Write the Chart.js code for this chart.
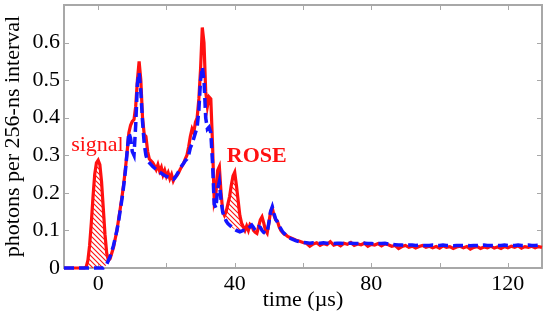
<!DOCTYPE html>
<html>
<head>
<meta charset="utf-8">
<script src="https://cdn.jsdelivr.net/npm/chart.js@4/dist/chart.umd.min.js"></script>
<style>
  html, body { margin: 0; padding: 0; background: #fff; }
  #wrap { width: 545px; height: 317px; }
</style>
</head>
<body>
<div id="wrap"><canvas id="photonChart" width="545" height="317"></canvas></div>
<script>
// sample times (µs)
var timeUs = [
  -10, -9, -8, -7, -6, -5, -4,
  -3.5, -3, -2.5, -2, -1.5, -1, -0.5, 0, 0.5, 1,
  1.5, 2, 2.5, 3, 3.5, 4, 4.5, 5, 5.5, 6,
  6.5, 7, 7.5, 8, 8.5, 9, 9.5, 10, 10.5, 11,
  11.5, 12, 12.5, 13, 13.5, 14, 14.5, 15, 15.5, 16,
  16.5, 17, 17.5, 18, 18.5, 19, 19.5, 20, 20.5, 21,
  21.5, 22, 22.5, 23, 23.5, 24, 24.5, 25, 25.5, 26,
  26.5, 27, 27.5, 28, 28.5, 29, 29.5, 30, 30.5, 31,
  31.5, 32, 32.5, 33, 33.5, 34, 34.5, 35, 35.5, 36,
  36.5, 37, 37.5, 38, 38.5, 39, 39.5, 40, 40.5, 41,
  41.5, 42, 42.5, 43, 43.5, 44, 44.5, 45, 45.5, 46,
  46.5, 47, 47.5, 48, 48.5, 49, 49.5, 50, 50.5, 51,
  51.5, 52, 52.5, 53, 53.5, 54, 54.5, 55, 55.5, 56,
  57, 58, 59, 60, 61, 62, 63, 64, 65, 66,
  67, 68, 69, 70, 71, 72, 73, 74, 75, 76,
  77, 78, 79, 80, 81, 82, 83, 84, 85, 86,
  87, 88, 89, 90, 91, 92, 93, 94, 95, 96,
  97, 98, 99, 100, 101, 102, 103, 104, 105, 106,
  107, 108, 109, 110, 111, 112, 113, 114, 115, 116,
  117, 118, 119, 120, 121, 122, 123, 124, 125, 126,
  127, 128, 129, 130
];

// red: measured signal
var signalPhotons = [
  0, 0, 0, 0, 0, 0, 0,
  0.003, 0.02, 0.06, 0.12, 0.19, 0.25, 0.28, 0.287, 0.275, 0.23,
  0.16, 0.09, 0.04, 0.02, 0.025, 0.04, 0.055, 0.078, 0.1, 0.13,
  0.16, 0.19, 0.225, 0.265, 0.31, 0.36, 0.38, 0.39, 0.395, 0.43,
  0.5, 0.55, 0.5, 0.4, 0.355, 0.35, 0.31, 0.29, 0.285, 0.28,
  0.272, 0.262, 0.275, 0.258, 0.268, 0.248, 0.26, 0.244, 0.254, 0.238,
  0.249, 0.232, 0.242, 0.245, 0.252, 0.262, 0.27, 0.278, 0.29, 0.3,
  0.322, 0.35, 0.37, 0.36, 0.388, 0.4, 0.45, 0.53, 0.64, 0.6,
  0.47, 0.43, 0.455, 0.45, 0.33, 0.18, 0.2, 0.26, 0.27, 0.2,
  0.15, 0.14, 0.15, 0.17, 0.19, 0.22, 0.245, 0.255, 0.22, 0.18,
  0.14, 0.12, 0.11, 0.1, 0.112, 0.1, 0.116, 0.112, 0.1, 0.095,
  0.092, 0.11, 0.128, 0.136, 0.12, 0.1, 0.093, 0.12, 0.15, 0.16,
  0.14, 0.128, 0.125, 0.11, 0.1, 0.095, 0.09, 0.088, 0.084, 0.082,
  0.078, 0.074, 0.071, 0.068, 0.066, 0.058, 0.064, 0.067, 0.06, 0.065,
  0.062, 0.07, 0.061, 0.064, 0.059, 0.066, 0.063, 0.068, 0.06, 0.064,
  0.062, 0.066, 0.058, 0.063, 0.061, 0.065, 0.059, 0.064, 0.062, 0.058,
  0.06, 0.052, 0.057, 0.06, 0.055, 0.058, 0.053, 0.057, 0.06, 0.055,
  0.058, 0.054, 0.057, 0.053, 0.059, 0.055, 0.057, 0.052, 0.056, 0.058,
  0.054, 0.057, 0.05, 0.055, 0.057, 0.052, 0.056, 0.054, 0.058, 0.053,
  0.056, 0.052, 0.057, 0.054, 0.058, 0.055, 0.059, 0.053, 0.057, 0.055,
  0.058, 0.054, 0.057, 0.055
];

// blue dashed: reference (no ROSE)
var referencePhotons = [
  0, 0, 0, 0, 0, 0, 0,
  0, 0, 0, 0, 0, 0, 0, 0, 0, 0,
  0, 0.003, 0.01, 0.02, 0.03, 0.045, 0.06, 0.08, 0.1, 0.125,
  0.155, 0.185, 0.22, 0.26, 0.31, 0.36, 0.345, 0.31, 0.3, 0.38,
  0.49, 0.52, 0.47, 0.39, 0.33, 0.3, 0.285, 0.28, 0.275, 0.27,
  0.266, 0.262, 0.258, 0.255, 0.252, 0.249, 0.246, 0.244, 0.242, 0.24,
  0.238, 0.236, 0.24, 0.248, 0.256, 0.265, 0.272, 0.278, 0.285, 0.29,
  0.3, 0.32, 0.33, 0.345, 0.36, 0.375, 0.42, 0.5, 0.535, 0.5,
  0.4, 0.37, 0.375, 0.36, 0.28, 0.17, 0.16, 0.21, 0.23, 0.18,
  0.148, 0.135, 0.125, 0.118, 0.114, 0.11, 0.106, 0.103, 0.1, 0.098,
  0.096, 0.098, 0.1, 0.1, 0.102, 0.105, 0.11, 0.114, 0.108, 0.1,
  0.105, 0.11, 0.108, 0.1, 0.095, 0.092, 0.095, 0.12, 0.15, 0.163,
  0.145, 0.13, 0.122, 0.112, 0.105, 0.097, 0.092, 0.088, 0.084, 0.08,
  0.076, 0.072, 0.07, 0.068, 0.067, 0.066, 0.067, 0.066, 0.066, 0.067,
  0.066, 0.066, 0.065, 0.066, 0.066, 0.065, 0.066, 0.066, 0.065, 0.065,
  0.065, 0.066, 0.065, 0.065, 0.064, 0.065, 0.065, 0.066, 0.064, 0.063,
  0.062, 0.061, 0.061, 0.06, 0.061, 0.061, 0.06, 0.061, 0.06, 0.06,
  0.06, 0.061, 0.06, 0.06, 0.061, 0.06, 0.06, 0.059, 0.06, 0.06,
  0.06, 0.06, 0.059, 0.06, 0.06, 0.06, 0.061, 0.06, 0.06, 0.06,
  0.06, 0.06, 0.061, 0.06, 0.06, 0.06, 0.061, 0.06, 0.06, 0.061,
  0.06, 0.06, 0.061, 0.06
];

// time windows hatched between the two curves
var hatchWindows = [[-4, 3], [36.5, 43]];

var xTickValues = [0, 20, 40, 60, 80, 100, 120];
var xTickLabels = [0, 40, 80, 120];
var yTickValues = [0, 0.1, 0.2, 0.3, 0.4, 0.5, 0.6, 0.7];
var yTickLabels = [0, 0.1, 0.2, 0.3, 0.4, 0.5, 0.6];

var serif = '"Liberation Serif", "DejaVu Serif", serif';

function toPoints(vals) {
    return timeUs.map(function (t, i) { return { x: t, y: vals[i] }; });
}

function inHatch(t) {
    return hatchWindows.some(function (w) { return t >= w[0] && t <= w[1]; });
}

// red diagonal hatching
function makeHatch() {
    var c = document.createElement('canvas');
    c.width = 5; c.height = 5;
    var g = c.getContext('2d');
    g.strokeStyle = '#ff1010';
    g.lineWidth = 1.1;
    g.beginPath();
    g.moveTo(-1, -1); g.lineTo(6, 6);
    g.moveTo(-1, 4); g.lineTo(1, 6);
    g.moveTo(4, -1); g.lineTo(6, 1);
    g.stroke();
    return g.createPattern(c, 'repeat');
}

var hatchData = timeUs.map(function (t, i) {
    return { x: t, y: inHatch(t) ? signalPhotons[i] : null };
});

// frame with inward ticks on all four sides
var framePlugin = {
    id: 'frame',
    beforeDatasetsDraw: function (chart) {
        var ctx = chart.ctx, a = chart.chartArea;
        var xs = chart.scales.x, ys = chart.scales.y;
        ctx.save();
        ctx.strokeStyle = '#a8a8a8';
        ctx.lineWidth = 2;
        ctx.strokeRect(a.left, a.top, a.right - a.left, a.bottom - a.top);
        ctx.lineWidth = 1;
        ctx.beginPath();
        xTickValues.forEach(function (v) {
            var px = Math.round(xs.getPixelForValue(v)) + 0.5;
            ctx.moveTo(px, a.bottom); ctx.lineTo(px, a.bottom - 5);
            ctx.moveTo(px, a.top); ctx.lineTo(px, a.top + 5);
        });
        yTickValues.forEach(function (v) {
            var py = Math.round(ys.getPixelForValue(v)) + 0.5;
            ctx.moveTo(a.left, py); ctx.lineTo(a.left + 5, py);
            ctx.moveTo(a.right, py); ctx.lineTo(a.right - 5, py);
        });
        ctx.stroke();
        ctx.restore();
    }
};

var notePlugin = {
    id: 'notes',
    afterDatasetsDraw: function (chart) {
        var ctx = chart.ctx;
        var xs = chart.scales.x, ys = chart.scales.y;
        ctx.save();
        ctx.fillStyle = '#ff1010';
        ctx.textBaseline = 'alphabetic';
        ctx.textAlign = 'left';
        ctx.font = '22px ' + serif;
        ctx.fillText('signal', xs.getPixelForValue(-7.9), ys.getPixelForValue(0.311));
        ctx.font = 'bold 22px ' + serif;
        ctx.fillText('ROSE', xs.getPixelForValue(37.7), ys.getPixelForValue(0.282));
        ctx.restore();
    }
};

var ctxPhoton = document.getElementById('photonChart');
var photonChart = new Chart(ctxPhoton, {
    type: 'line',
    data: {
        datasets: [
            {
                label: 'reference',
                data: toPoints(referencePhotons),
                borderColor: '#1414ff',
                borderWidth: 3.5,
                borderDash: [10, 5],
                pointRadius: 0,
                fill: false,
                clip: false
            },
            {
                label: 'signal',
                data: toPoints(signalPhotons),
                borderColor: '#ff1010',
                borderWidth: 3.2,
                pointRadius: 0,
                fill: false,
                clip: false
            },
            {
                label: 'hatch',
                data: hatchData,
                borderWidth: 0,
                borderColor: 'transparent',
                pointRadius: 0,
                spanGaps: false,
                backgroundColor: makeHatch(),
                fill: 0
            }
        ]
    },
    options: {
        responsive: false,
        animation: false,
        events: [],
        layout: { autoPadding: false, padding: { top: 5, right: 3, left: 0, bottom: 0 } },
        plugins: {
            legend: { display: false },
            tooltip: { enabled: false }
        },
        elements: { line: { tension: 0 } },
        scales: {
            x: {
                type: 'linear',
                min: -10,
                max: 130,
                grid: { display: false, drawTicks: false, tickLength: 0 },
                border: { display: false },
                afterBuildTicks: function (s) {
                    s.ticks = xTickValues.map(function (v) { return { value: v }; });
                },
                afterFit: function (s) {
                    s.height = 49;
                    s.paddingLeft = 0; s.paddingRight = 0;
                },
                ticks: {
                    color: '#000',
                    font: { family: serif, size: 22 },
                    padding: 3,
                    maxRotation: 0,
                    autoSkip: false,
                    callback: function (v) {
                        return xTickLabels.indexOf(v) >= 0 ? String(v) : '';
                    }
                },
                title: {
                    display: true,
                    text: 'time (\u00b5s)',
                    color: '#000',
                    font: { family: serif, size: 22 },
                    padding: { top: 0, bottom: 4 }
                }
            },
            y: {
                min: 0,
                max: 0.7,
                grid: { display: false, drawTicks: false, tickLength: 0 },
                border: { display: false },
                afterBuildTicks: function (s) {
                    s.ticks = yTickValues.map(function (v) { return { value: v }; });
                },
                afterFit: function (s) {
                    s.width = 64;
                    s.paddingTop = 0; s.paddingBottom = 0;
                },
                ticks: {
                    color: '#000',
                    font: { family: serif, size: 22 },
                    padding: 4,
                    autoSkip: false,
                    callback: function (v) {
                        var r = Math.round(v * 10) / 10;
                        return yTickLabels.indexOf(r) >= 0 ? String(r) : '';
                    }
                },
                title: {
                    display: true,
                    text: 'photons per 256-ns interval',
                    color: '#000',
                    font: { family: serif, size: 22 },
                    padding: { top: 0, bottom: 0 }
                }
            }
        }
    },
    plugins: [framePlugin, notePlugin]
});
</script>
</body>
</html>
